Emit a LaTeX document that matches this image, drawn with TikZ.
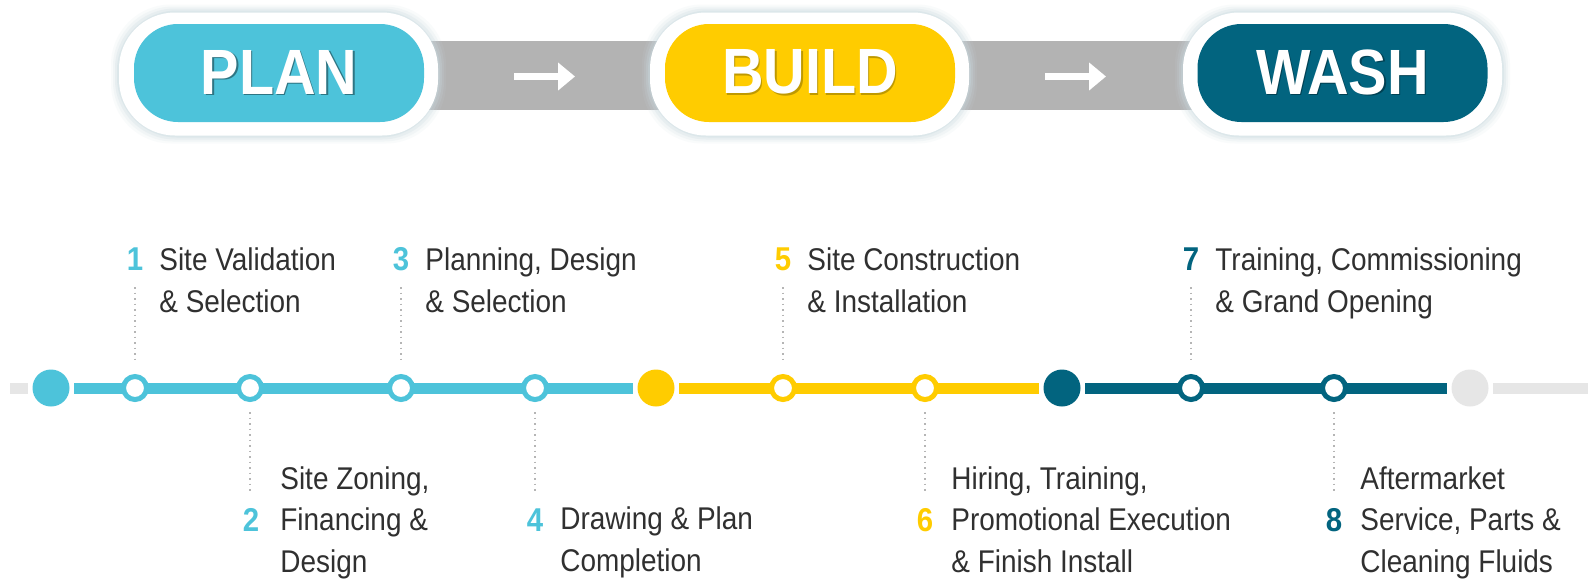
\documentclass[tikz,border=0pt]{standalone}
\usepackage{fontspec}
\setmainfont{Liberation Sans}
\usepackage{graphicx}
\usetikzlibrary{arrows.meta}

\definecolor{planblue}{HTML}{4DC3DA}
\definecolor{buildyellow}{HTML}{FFCC00}
\definecolor{washteal}{HTML}{02647F}
\definecolor{bargray}{HTML}{B3B3B3}
\definecolor{linegray}{HTML}{E6E6E6}
\definecolor{textdark}{HTML}{303030}
\definecolor{leadgray}{HTML}{B5B5B5}
\definecolor{glowc}{HTML}{C9DAE1}

% narrow setting for the condensed captions
\newcommand{\nrw}[1]{\scalebox{0.89}[1]{#1}}
% pill label with a soft drop shadow
\newcommand{\pilltxt}[2]{\scalebox{0.9}[1]{\rlap{\kern0.8pt\raisebox{-0.8pt}{\color{#1}#2}}#2}}

\tikzset{
  pillout/.style={fill=white, minimum width=159.5pt, minimum height=61.5pt,
    rounded corners=28pt, inner sep=0pt},
  pillin/.style={minimum width=145pt, minimum height=49pt, rounded corners=22pt,
    inner sep=0pt, text=white, font=\bfseries\fontsize{32pt}{36pt}\selectfont},
  pillarrow/.style={draw=white, line width=3.5pt,
    -{Triangle[length=8.5pt, width=13.5pt]}},
  tline/.style={line width=5.5pt, shorten <=2.25pt, shorten >=2.25pt},
  bigdot/.style={circle, minimum size=18.5pt, inner sep=0pt, draw=none},
  ring/.style={circle, minimum size=11.5pt, inner sep=0pt, fill=white, line width=2.5pt},
  num/.style={inner sep=0pt, font=\bfseries\fontsize{16.5pt}{18pt}\selectfont},
  % the base anchor of a multi-line caption sits on its last line
  item/.style={anchor=base west, align=left, inner sep=0pt, text=textdark,
    font=\fontsize{15.7pt}{20.75pt}\selectfont},
  leader/.style={draw=leadgray, line width=0.75pt, dash pattern=on 0.75pt off 2pt},
}

\begin{document}
\begin{tikzpicture}[x=0.5pt, y=-0.5pt]
\useasboundingbox (0,0) rectangle (1588,579);
\fill[white] (0,0) rectangle (1588,579);

% grey connecting bands behind the phase pills
\fill[bargray] (400,41) rectangle (700,110);
\fill[bargray] (930,41) rectangle (1250,110);

% soft halo around the phase pills
\foreach \cx in {278.5,809.5,1342.5} {
  \foreach \d/\op in {8/0.10,6/0.16,4/0.24,2/0.35} {
    \fill[glowc, opacity=\op, rounded corners=30pt]
      (\cx-159.5-\d, 12.5-\d) rectangle (\cx+159.5+\d, 135.5+\d);
  }
}

% phase pills
\node[pillout] (plano) at (278.5,74) {};
\node[pillout] (buildo) at (809.5,74) {};
\node[pillout] (washo) at (1342.5,74) {};
\node[pillin, fill=planblue] (plan) at (279,73) {\pilltxt{planblue!60!black}{PLAN}};
\node[pillin, fill=buildyellow] (build) at (810,73) {\pilltxt{buildyellow!75!black}{BUILD}};
\node[pillin, fill=washteal] (wash) at (1342.5,73) {\pilltxt{washteal!65!black}{WASH}};

% arrows on the bands
\draw[pillarrow] (514,76.5) -- (575,76.5);
\draw[pillarrow] (1045,76.5) -- (1106,76.5);

% timeline milestones
\node[bigdot, fill=planblue] (d0) at (51,388) {};
\node[bigdot, fill=buildyellow] (d1) at (656,388) {};
\node[bigdot, fill=washteal] (d2) at (1062,388) {};
\node[bigdot, fill=linegray] (d3) at (1470,388) {};
\coordinate (l0) at (5.5,388);
\coordinate (r0) at (1592.5,388);

\draw[tline, draw=linegray] (l0) -- (d0);
\draw[tline, draw=planblue] (d0) -- (d1);
\draw[tline, draw=buildyellow] (d1) -- (d2);
\draw[tline, draw=washteal] (d2) -- (d3);
\draw[tline, draw=linegray] (d3) -- (r0);

% steps on the timeline
\node[ring, draw=planblue] (s1) at (135,388) {};
\node[ring, draw=planblue] (s2) at (250,388) {};
\node[ring, draw=planblue] (s3) at (401,388) {};
\node[ring, draw=planblue] (s4) at (535,388) {};
\node[ring, draw=buildyellow] (s5) at (783,388) {};
\node[ring, draw=buildyellow] (s6) at (925,388) {};
\node[ring, draw=washteal] (s7) at (1191,388) {};
\node[ring, draw=washteal] (s8) at (1334,388) {};

% leader ends
\coordinate (u1) at (135,287);
\coordinate (u3) at (401,287);
\coordinate (u5) at (783,287);
\coordinate (u7) at (1191,287);
\coordinate (b2) at (250,493);
\coordinate (b4) at (535,493);
\coordinate (b6) at (925,493);
\coordinate (b8) at (1334,493);

\draw[leader] (u1) -- ([yshift=5.5pt]s1.north);
\draw[leader] (u3) -- ([yshift=5.5pt]s3.north);
\draw[leader] (u5) -- ([yshift=5.5pt]s5.north);
\draw[leader] (u7) -- ([yshift=5.5pt]s7.north);
\draw[leader] ([yshift=-5pt]s2.south) -- (b2);
\draw[leader] ([yshift=-5pt]s4.south) -- (b4);
\draw[leader] ([yshift=-5pt]s6.south) -- (b6);
\draw[leader] ([yshift=-5pt]s8.south) -- (b8);

% step numbers
\node[num, text=planblue] (n1) at (135,259) {\nrw{1}};
\node[num, text=planblue] (n2) at (251,520) {\nrw{2}};
\node[num, text=planblue] (n3) at (401,259) {\nrw{3}};
\node[num, text=planblue] (n4) at (535,520) {\nrw{4}};
\node[num, text=buildyellow] (n5) at (783,259) {\nrw{5}};
\node[num, text=buildyellow] (n6) at (925,520) {\nrw{6}};
\node[num, text=washteal] (n7) at (1191,259) {\nrw{7}};
\node[num, text=washteal] (n8) at (1334,520) {\nrw{8}};

% step captions
\node[item] (t1) at (159,312) {\nrw{Site Validation}\\\nrw{\& Selection}};
\node[item] (t3) at (425,312) {\nrw{Planning, Design}\\\nrw{\& Selection}};
\node[item] (t5) at (807,312) {\nrw{Site Construction}\\\nrw{\& Installation}};
\node[item] (t7) at (1215,312) {\nrw{Training, Commissioning}\\\nrw{\& Grand Opening}};
\node[item] (t2) at (280,572) {\nrw{Site Zoning,}\\\nrw{Financing \&}\\\nrw{Design}};
\node[item] (t4) at (560,571) {\nrw{Drawing \& Plan}\\\nrw{Completion}};
\node[item] (t6) at (951,572) {\nrw{Hiring, Training,}\\\nrw{Promotional Execution}\\\nrw{\& Finish Install}};
\node[item] (t8) at (1360,572) {\nrw{Aftermarket}\\\nrw{Service, Parts \&}\\\nrw{Cleaning Fluids}};
\end{tikzpicture}
\end{document}
